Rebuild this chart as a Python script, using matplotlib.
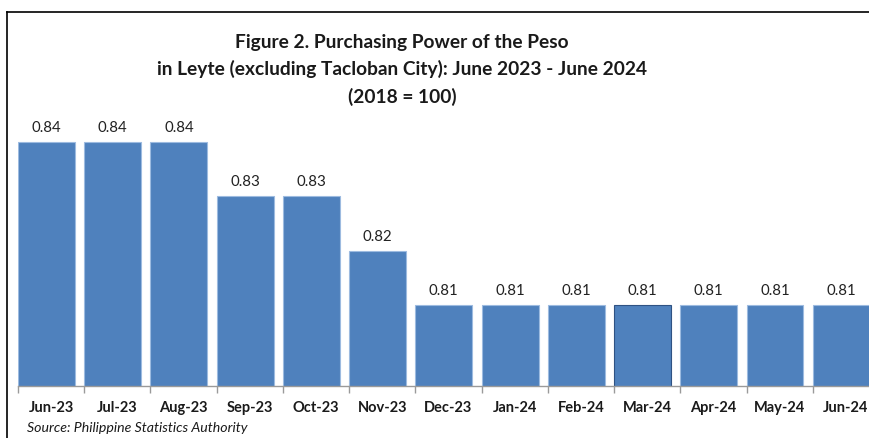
import matplotlib
matplotlib.use("Agg")
import matplotlib.pyplot as plt
from matplotlib.lines import Line2D

months = ["Jun-23", "Jul-23", "Aug-23", "Sep-23", "Oct-23", "Nov-23", "Dec-23",
          "Jan-24", "Feb-24", "Mar-24", "Apr-24", "May-24", "Jun-24"]
ppp = [0.84, 0.84, 0.84, 0.83, 0.83, 0.82, 0.81,
       0.81, 0.81, 0.81, 0.81, 0.81, 0.81]

title = ("Figure 2. Purchasing Power of the Peso\n"
         "in Leyte (excluding Tacloban City): June 2023 - June 2024\n"
         "(2018 = 100)")
source = "Source: Philippine Statistics Authority"

plt.rcParams["font.family"] = ["Lato", "DejaVu Sans"]

fig = plt.figure(figsize=(8.7, 4.38), dpi=100)
W, H = 870, 438
# axes: baseline at y=386 px, top at 115 px, left edge 18 px, runs past right edge
ax = fig.add_axes([18 / W, 1 - 386 / H, 861 / W, 271 / H])

x = list(range(len(months)))
edges = ["#2f5283" if m == "Mar-24" else "#9dbbe0" for m in months]
bars = ax.bar(x, ppp, width=0.86, align="edge", bottom=0,
              color="#4f81bd", edgecolor=edges, linewidth=0.8)
ax.set_xlim(0, len(months))
ax.set_ylim(0.795, 0.845)

for xi, v in zip(x, ppp):
    ax.annotate(f"{v:.2f}", (xi + 0.43, v), xytext=(0, 5), textcoords="offset points",
                ha="center", va="bottom", fontsize=10.8, color="#222222")

for s in ["top", "right", "left"]:
    ax.spines[s].set_visible(False)
ax.spines["bottom"].set_color("#9a9a9a")
ax.spines["bottom"].set_linewidth(1.0)
ax.set_yticks([])
ax.set_xticks(x + [len(months)])
ax.set_xticklabels([])
ax.set_xticks([i + 0.5 for i in x], labels=months, minor=True)
ax.tick_params(axis="x", which="major", length=5, color="#9a9a9a", width=1.0)
ax.tick_params(axis="x", which="minor", length=0, pad=11)
for lab in ax.get_xticklabels(minor=True):
    lab.set_fontweight("bold")
    lab.set_fontsize(10.5)
    lab.set_color("#1a1a1a")

fig.text(402 / W, 1 - 70 / H, title, ha="center", va="center", fontsize=13.8,
         fontweight="bold", color="#1a1a1a", linespacing=1.6)
fig.text(27 / W, 1 - 428 / H, source, ha="left", va="center", fontsize=10.2,
         style="italic", color="#1a1a1a")

# frame lines of the cropped chart area
fig.add_artist(Line2D([7 / W, 7 / W], [0, 1 - 12 / H], color="black", lw=1.2,
                      transform=fig.transFigure))
fig.add_artist(Line2D([7 / W, 1], [1 - 12 / H, 1 - 12 / H], color="black", lw=1.2,
                      transform=fig.transFigure))

fig.savefig("out.png", dpi=100)
